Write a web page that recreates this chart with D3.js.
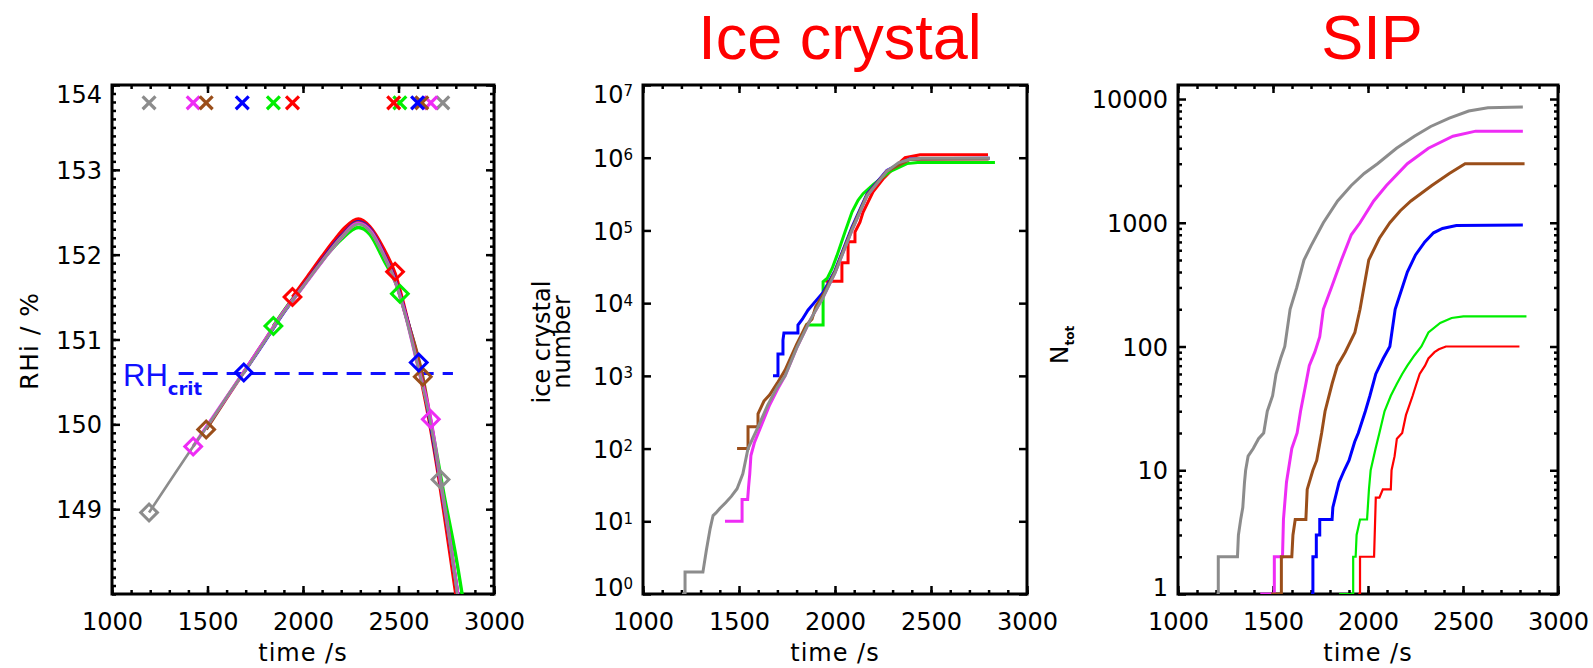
<!DOCTYPE html>
<html>
<head>
<meta charset="utf-8">
<script src="https://cdn.jsdelivr.net/npm/d3@7"></script>
<style>
  body { margin: 0; background: #fff; }
  svg { font-family: "DejaVu Sans", sans-serif; }
</style>
</head>
<body>
<svg id="chart" width="1593" height="668"></svg>
<script>
// --------------------------------------------------------------------------------------
// data
// --------------------------------------------------------------------------------------
var time_ticks = [1000, 1500, 2000, 2500, 3000];
var rhi_ticks = [149, 150, 151, 152, 153, 154];
var ice_ticks = [1, 10, 100, 1e3, 1e4, 1e5, 1e6, 1e7];
var sip_ticks = [1, 10, 100, 1000, 10000];
var rh_crit = 150.6;
var rh_crit_span = [1349, 2785];
var cross_level = 153.79;

var names = ["gray", "magenta", "brown", "blue", "green", "red"];
var colors = { gray: "#8c8c8c", magenta: "#ee2cf5", brown: "#9a4e1a", blue: "#0000ff", green: "#00ee00", red: "#ff0000" };

// crosses at top of RHi panel: onset / end time of each run
var cross_start = [1194, 1425, 1493, 1682, 1845, 1945];
var cross_end = [2732, 2669, 2622, 2600, 2507, 2475];

// end diamonds [time, RHi]
var diamond_end = [[2720, 149.35], [2669, 150.06], [2627, 150.56], [2606, 150.73], [2507, 151.54], [2482, 151.8]];

// RHi / % curves [time, RHi]
var rhi_gray = [[1194,148.96],[1300,149.32],[1425,149.74],[1500,149.98],[1600,150.32],[1700,150.64],[1800,150.98],[1900,151.32],[2000,151.62],[2100,151.92],[2200,152.2],[2290,152.36],[2360,152.25],[2420,152.0],[2480,151.7],[2540,151.25],[2600,150.7],[2660,150.1],[2720,149.35],[2770,148.6],[2820,147.8]];
var rhi_magenta = [[1425,149.74],[1500,149.99],[1600,150.32],[1700,150.65],[1800,150.99],[1900,151.33],[2000,151.62],[2100,151.92],[2200,152.2],[2290,152.37],[2360,152.26],[2420,152.01],[2480,151.7],[2540,151.26],[2600,150.7],[2669,150.06],[2720,149.33],[2770,148.62],[2820,147.85]];
var rhi_brown = [[1493,149.94],[1600,150.31],[1700,150.65],[1800,150.99],[1900,151.33],[2000,151.63],[2100,151.93],[2200,152.21],[2290,152.38],[2360,152.27],[2420,152.02],[2480,151.71],[2540,151.27],[2627,150.56],[2670,150.02],[2720,149.3],[2770,148.6],[2820,147.85]];
var rhi_blue = [[1690,150.61],[1800,150.98],[1900,151.32],[2000,151.63],[2100,151.94],[2200,152.22],[2290,152.39],[2360,152.28],[2420,152.03],[2480,151.72],[2540,151.28],[2606,150.73],[2660,150.1],[2720,149.3],[2770,148.6],[2820,147.85]];
var rhi_green = [[1845,151.16],[1900,151.34],[2000,151.64],[2100,151.93],[2200,152.18],[2290,152.32],[2350,152.24],[2420,151.95],[2507,151.54],[2560,151.1],[2620,150.55],[2680,149.9],[2740,149.15],[2800,148.45],[2840,147.9]];
var rhi_red = [[1945,151.5],[2023,151.74],[2100,151.98],[2160,152.16],[2220,152.32],[2290,152.42],[2350,152.33],[2420,152.08],[2482,151.78],[2540,151.3],[2600,150.72],[2660,150.05],[2710,149.38],[2760,148.62],[2800,148.0],[2830,147.5]];

// ice crystal number [time, N]
var ice_gray = [[1203,1],[1219,1],[1219,2],[1312,2],[1330,4],[1350,8],[1365,12],[1380,13],[1400,15],[1430,18],[1460,22],[1490,28],[1520,45],[1547,100],[1600,200],[1650,400],[1700,700],[1740,1000],[1800,2400],[1870,5800],[1938,12000],[2000,26000],[2088,100000],[2167,300000],[2270,650000],[2330,850000],[2390,950000],[2450,980000],[2807,980000]];
var ice_magenta = [[1427,10],[1516,10],[1516,20],[1545,20],[1550,30],[1556,45],[1562,80],[1580,120],[1620,220],[1660,400],[1700,650],[1740,1000],[1800,2400],[1870,5800],[1938,12000],[2000,26000],[2088,100000],[2167,300000],[2270,660000],[2390,960000],[2800,970000]];
var ice_brown = [[1490,100],[1547,100],[1547,200],[1599,200],[1599,300],[1630,450],[1660,550],[1700,800],[1740,1200],[1800,2700],[1850,5000],[1880,6000],[1900,9000],[1938,13000],[2000,27000],[2088,105000],[2167,310000],[2270,650000],[2390,950000],[2800,960000]];
var ice_blue = [[1677,1000],[1703,1000],[1703,2000],[1729,2000],[1729,3100],[1734,3900],[1807,3900],[1807,5000],[1830,6000],[1859,8000],[1890,10000],[1938,14000],[2000,28000],[2088,110000],[2167,320000],[2270,670000],[2390,970000],[2805,980000]];
var ice_green = [[1845,5000],[1938,5000],[1938,19700],[1960,22000],[1985,30000],[2010,45000],[2052,95000],[2089,180000],[2120,260000],[2146,320000],[2200,430000],[2286,645000],[2375,830000],[2430,860000],[2833,860000]];
var ice_red = [[1950,20000],[2036,20000],[2036,36000],[2068,36000],[2068,70000],[2104,70000],[2104,95000],[2130,130000],[2146,178000],[2198,340000],[2250,510000],[2323,800000],[2365,1000000],[2443,1100000],[2797,1100000]];

// SIP N_tot [time, N]
var sip_gray = [[1203,1],[1212,1],[1212,2],[1313,2],[1318,3],[1330,4],[1341,5],[1350,8],[1356,10],[1369,13],[1396,15],[1424,18],[1451,20],[1470,30],[1498,40],[1516,60],[1540,80],[1562,100],[1590,200],[1625,300],[1663,500],[1700,650],[1765,1000],[1840,1500],[1912,2000],[1980,2500],[2050,3000],[2150,4000],[2244,5000],[2330,6000],[2428,7000],[2530,8000],[2631,8500],[2815,8600]];
var sip_magenta = [[1433,1],[1507,1],[1507,2],[1550,2],[1555,4],[1571,8],[1599,15],[1627,20],[1645,30],[1673,50],[1691,70],[1720,90],[1746,120],[1765,200],[1811,310],[1860,500],[1912,800],[1958,1000],[2030,1500],[2097,2000],[2207,3000],[2318,4000],[2447,5000],[2567,5500],[2815,5500]];
var sip_brown = [[1490,1],[1544,1],[1544,2],[1599,2],[1605,3],[1617,4],[1673,4],[1680,7],[1710,10],[1730,12],[1756,20],[1774,30],[1811,50],[1839,70],[1880,90],[1931,130],[1958,200],[2004,500],[2060,750],[2115,1000],[2170,1250],[2226,1500],[2336,2000],[2428,2500],[2511,3000],[2824,3000]];
var sip_blue = [[1700,1],[1710,1],[1710,2],[1728,2],[1728,3],[1746,3],[1746,4],[1811,4],[1815,5],[1848,8],[1875,10],[1900,12],[1930,17],[1949,20],[1986,30],[2010,40],[2041,60],[2080,80],[2115,100],[2143,200],[2207,400],[2250,550],[2299,700],[2345,830],[2392,900],[2465,950],[2815,960]];
var sip_green = [[1848,1],[1922,1],[1922,2],[1935,2],[1940,3],[1958,4],[1995,4],[2005,7],[2014,10],[2040,15],[2060,20],[2087,30],[2120,40],[2152,50],[2180,60],[2207,70],[2245,85],[2281,100],[2318,130],[2380,155],[2440,170],[2502,175],[2834,175]];
var sip_red = [[1949,1],[1958,1],[1958,2],[2032,2],[2041,6],[2060,6],[2078,7],[2120,7],[2124,10],[2140,13],[2152,18],[2180,20],[2200,28],[2207,30],[2235,40],[2255,50],[2272,60],[2300,70],[2318,80],[2350,90],[2373,95],[2410,100],[2797,100]];

var rhi_data = { gray: rhi_gray, magenta: rhi_magenta, brown: rhi_brown, blue: rhi_blue, green: rhi_green, red: rhi_red };
var ice_data = { gray: ice_gray, magenta: ice_magenta, brown: ice_brown, blue: ice_blue, green: ice_green, red: ice_red };
var sip_data = { gray: sip_gray, magenta: sip_magenta, brown: sip_brown, blue: sip_blue, green: sip_green, red: sip_red };

// --------------------------------------------------------------------------------------
// layout
// --------------------------------------------------------------------------------------
var top_px = 85, bottom_px = 594;
var title_font = "Liberation Sans, Arial, Helvetica, sans-serif";
var svg = d3.select("#chart");

// --------------------------------------------------------------------------------------
// frame with inward ticks on all four sides
// --------------------------------------------------------------------------------------
function draw_frame(g, x, y, y_major, y_minor, y_fmt)
{
  var x_minor = d3.range(1000, 3001, 100);

  g.append("g").attr("transform", "translate(0," + bottom_px + ")")
   .call(d3.axisBottom(x).tickValues(x_minor).tickSize(-4).tickSizeOuter(0).tickFormat(""));
  g.append("g").attr("transform", "translate(0," + top_px + ")")
   .call(d3.axisTop(x).tickValues(x_minor).tickSize(-4).tickSizeOuter(0).tickFormat(""));
  g.append("g").attr("transform", "translate(0," + top_px + ")")
   .call(d3.axisTop(x).tickValues(time_ticks).tickSize(-8).tickSizeOuter(0).tickFormat(""));

  g.append("g").attr("class", "xlab").attr("transform", "translate(0," + bottom_px + ")")
   .call(d3.axisBottom(x).tickValues(time_ticks).tickSize(-8).tickSizeOuter(0).tickPadding(19).tickFormat(d3.format("d")));

  var x0 = x.range()[0], x1 = x.range()[1];

  if(y_minor) {
    g.append("g").attr("transform", "translate(" + x0 + ",0)")
     .call(d3.axisLeft(y).tickValues(y_minor).tickSize(-4).tickSizeOuter(0).tickFormat(""));
    g.append("g").attr("transform", "translate(" + x1 + ",0)")
     .call(d3.axisRight(y).tickValues(y_minor).tickSize(-4).tickSizeOuter(0).tickFormat(""));
  }
  g.append("g").attr("transform", "translate(" + x1 + ",0)")
   .call(d3.axisRight(y).tickValues(y_major).tickSize(-8).tickSizeOuter(0).tickFormat(""));
  var yl = g.append("g").attr("class", "ylab").attr("transform", "translate(" + x0 + ",0)")
   .call(d3.axisLeft(y).tickValues(y_major).tickSize(-8).tickSizeOuter(0).tickPadding(10).tickFormat(y_fmt));

  // keep end labels inside the frame height like the original
  yl.selectAll(".tick text").attr("y", function(d) {
    var ty = y(d);
    if(ty < top_px + 9) return top_px + 9 - ty;
    if(ty > bottom_px - 7) return bottom_px - 7 - ty;
    return 0;
  }).attr("dy", "0.36em");

  g.selectAll(".domain").remove();
  g.selectAll(".tick line").attr("stroke", "#000").attr("stroke-width", 2.5);
  g.selectAll(".xlab text, .ylab text")
   .attr("font-family", "DejaVu Sans").attr("font-size", 24).attr("fill", "#000");

  g.append("rect")
   .attr("x", x0).attr("y", top_px)
   .attr("width", x1 - x0).attr("height", bottom_px - top_px)
   .attr("fill", "none").attr("stroke", "#000").attr("stroke-width", 3);

  // x title
  g.append("text")
   .attr("x", (x0 + x1) / 2).attr("y", 661)
   .attr("text-anchor", "middle")
   .attr("font-size", 24).attr("letter-spacing", 1)
   .text("time /s");

  return yl;
}
// --------------------------------------------------------------------------------------
function add_clip(id, x)
{
  svg.append("clipPath").attr("id", id)
     .append("rect")
     .attr("x", x.range()[0]).attr("y", top_px)
     .attr("width", x.range()[1] - x.range()[0]).attr("height", bottom_px - top_px);
}
// --------------------------------------------------------------------------------------
function add_title(text, cx)
{
  svg.append("text")
     .attr("x", cx).attr("y", 59)
     .attr("text-anchor", "middle")
     .attr("fill", "#ff0000")
     .attr("font-family", title_font)
     .attr("font-size", 63)
     .text(text);
}
// --------------------------------------------------------------------------------------
// panel 1 : RHi
// --------------------------------------------------------------------------------------
function panel_rhi()
{
  var x = d3.scaleLinear().domain([1000, 3000]).range([112, 494]);
  var y = d3.scaleLinear().domain([148, 154]).range([bottom_px, top_px]);
  var g = svg.append("g");
  add_clip("clip1", x);

  var minor = d3.range(1480, 1541).map(function(v) { return v / 10; });
  draw_frame(g, x, y, rhi_ticks, minor, d3.format("d"));

  var plot = g.append("g").attr("clip-path", "url(#clip1)");

  // critical RH
  plot.append("line")
      .attr("x1", x(rh_crit_span[0])).attr("x2", x(rh_crit_span[1]))
      .attr("y1", y(rh_crit)).attr("y2", y(rh_crit))
      .attr("stroke", "#1010ff").attr("stroke-width", 3)
      .attr("stroke-dasharray", "15,9");

  var line = d3.line()
               .x(function(d) { return x(d[0]); })
               .y(function(d) { return y(d[1]); })
               .curve(d3.curveMonotoneX);

  var order = ["green", "red", "blue", "brown", "magenta", "gray"];
  order.forEach(function(n) {
    plot.append("path")
        .attr("d", line(rhi_data[n]))
        .attr("fill", "none")
        .attr("stroke", colors[n])
        .attr("stroke-width", n == "gray" ? 2.6 : 3.4);
  });

  // diamonds at onset and end
  var diamond = d3.symbol(d3.symbolSquare, 140);
  names.forEach(function(n, i) {
    var pts = [rhi_data[n][0], diamond_end[i]];
    pts.forEach(function(p) {
      plot.append("path")
          .attr("d", diamond())
          .attr("transform", "translate(" + x(p[0]) + "," + y(p[1]) + ") rotate(45)")
          .attr("fill", "none")
          .attr("stroke", colors[n])
          .attr("stroke-width", 3);
    });
  });

  // crosses on top
  var cross = d3.symbol(d3.symbolTimes, 110);
  names.forEach(function(n, i) {
    [cross_start[i], cross_end[i]].forEach(function(t) {
      plot.append("path")
          .attr("d", cross())
          .attr("transform", "translate(" + x(t) + "," + y(cross_level) + ")")
          .attr("fill", "none")
          .attr("stroke", colors[n])
          .attr("stroke-width", 3.2);
    });
  });

  // RH_crit label
  var lab = g.append("text")
             .attr("x", 123).attr("y", 386)
             .attr("fill", "#1010ff")
             .attr("font-family", title_font)
             .attr("font-size", 31)
             .text("RH");
  lab.append("tspan")
     .attr("dy", 9)
     .attr("font-family", "DejaVu Sans")
     .attr("font-weight", "bold")
     .attr("font-size", 18)
     .text("crit");

  // y title
  g.append("text")
   .attr("transform", "translate(38,341) rotate(-90)")
   .attr("text-anchor", "middle")
   .attr("font-size", 25).attr("letter-spacing", 1)
   .text("RHi / %");
}
// --------------------------------------------------------------------------------------
// panel 2 : ice crystal number
// --------------------------------------------------------------------------------------
function panel_ice()
{
  var x = d3.scaleLinear().domain([1000, 3000]).range([643, 1027]);
  var y = d3.scaleLog().domain([1, 1e7]).range([bottom_px, top_px]);
  var g = svg.append("g");
  add_clip("clip2", x);

  var yl = draw_frame(g, x, y, ice_ticks, null, function() { return ""; });
  yl.selectAll(".tick text").each(function(d) {
    var t = d3.select(this);
    t.text("10");
    t.append("tspan")
     .attr("dy", "-0.45em")
     .attr("font-size", 15)
     .text(Math.round(Math.log10(d)));
  });

  var plot = g.append("g").attr("clip-path", "url(#clip2)");
  var line = d3.line()
               .x(function(d) { return x(d[0]); })
               .y(function(d) { return y(d[1]); });

  var order = ["red", "green", "blue", "magenta", "brown", "gray"];
  order.forEach(function(n) {
    plot.append("path")
        .attr("d", line(ice_data[n]))
        .attr("fill", "none")
        .attr("stroke", colors[n])
        .attr("stroke-width", 3);
  });

  add_title("Ice crystal", 840);

  g.append("text")
   .attr("transform", "translate(550,342) rotate(-90)")
   .attr("text-anchor", "middle")
   .attr("font-size", 24)
   .text("ice crystal");
  g.append("text")
   .attr("transform", "translate(570,342) rotate(-90)")
   .attr("text-anchor", "middle")
   .attr("font-size", 24)
   .text("number");
}
// --------------------------------------------------------------------------------------
// panel 3 : SIP
// --------------------------------------------------------------------------------------
function panel_sip()
{
  var x = d3.scaleLinear().domain([1000, 3000]).range([1178, 1558]);
  var y = d3.scaleLog().domain([1, 12980]).range([bottom_px, top_px]);
  var g = svg.append("g");
  add_clip("clip3", x);

  var minor = y.ticks().filter(function(v) { return sip_ticks.indexOf(v) < 0; });
  draw_frame(g, x, y, sip_ticks, minor, d3.format("d"));

  var plot = g.append("g").attr("clip-path", "url(#clip3)");
  var line = d3.line()
               .x(function(d) { return x(d[0]); })
               .y(function(d) { return y(d[1]); });

  names.forEach(function(n) {
    plot.append("path")
        .attr("d", line(sip_data[n]))
        .attr("fill", "none")
        .attr("stroke", colors[n])
        .attr("stroke-width", (n == "green" || n == "red") ? 2.2 : 3);
  });

  add_title("SIP", 1372);

  var nt = g.append("text")
            .attr("transform", "translate(1068,345) rotate(-90)")
            .attr("text-anchor", "middle")
            .attr("font-size", 25)
            .text("N");
  nt.append("tspan")
    .attr("dy", 6)
    .attr("font-size", 12)
    .attr("font-weight", "bold")
    .text("tot");
}
// --------------------------------------------------------------------------------------
panel_rhi();
panel_ice();
panel_sip();
</script>
</body>
</html>
